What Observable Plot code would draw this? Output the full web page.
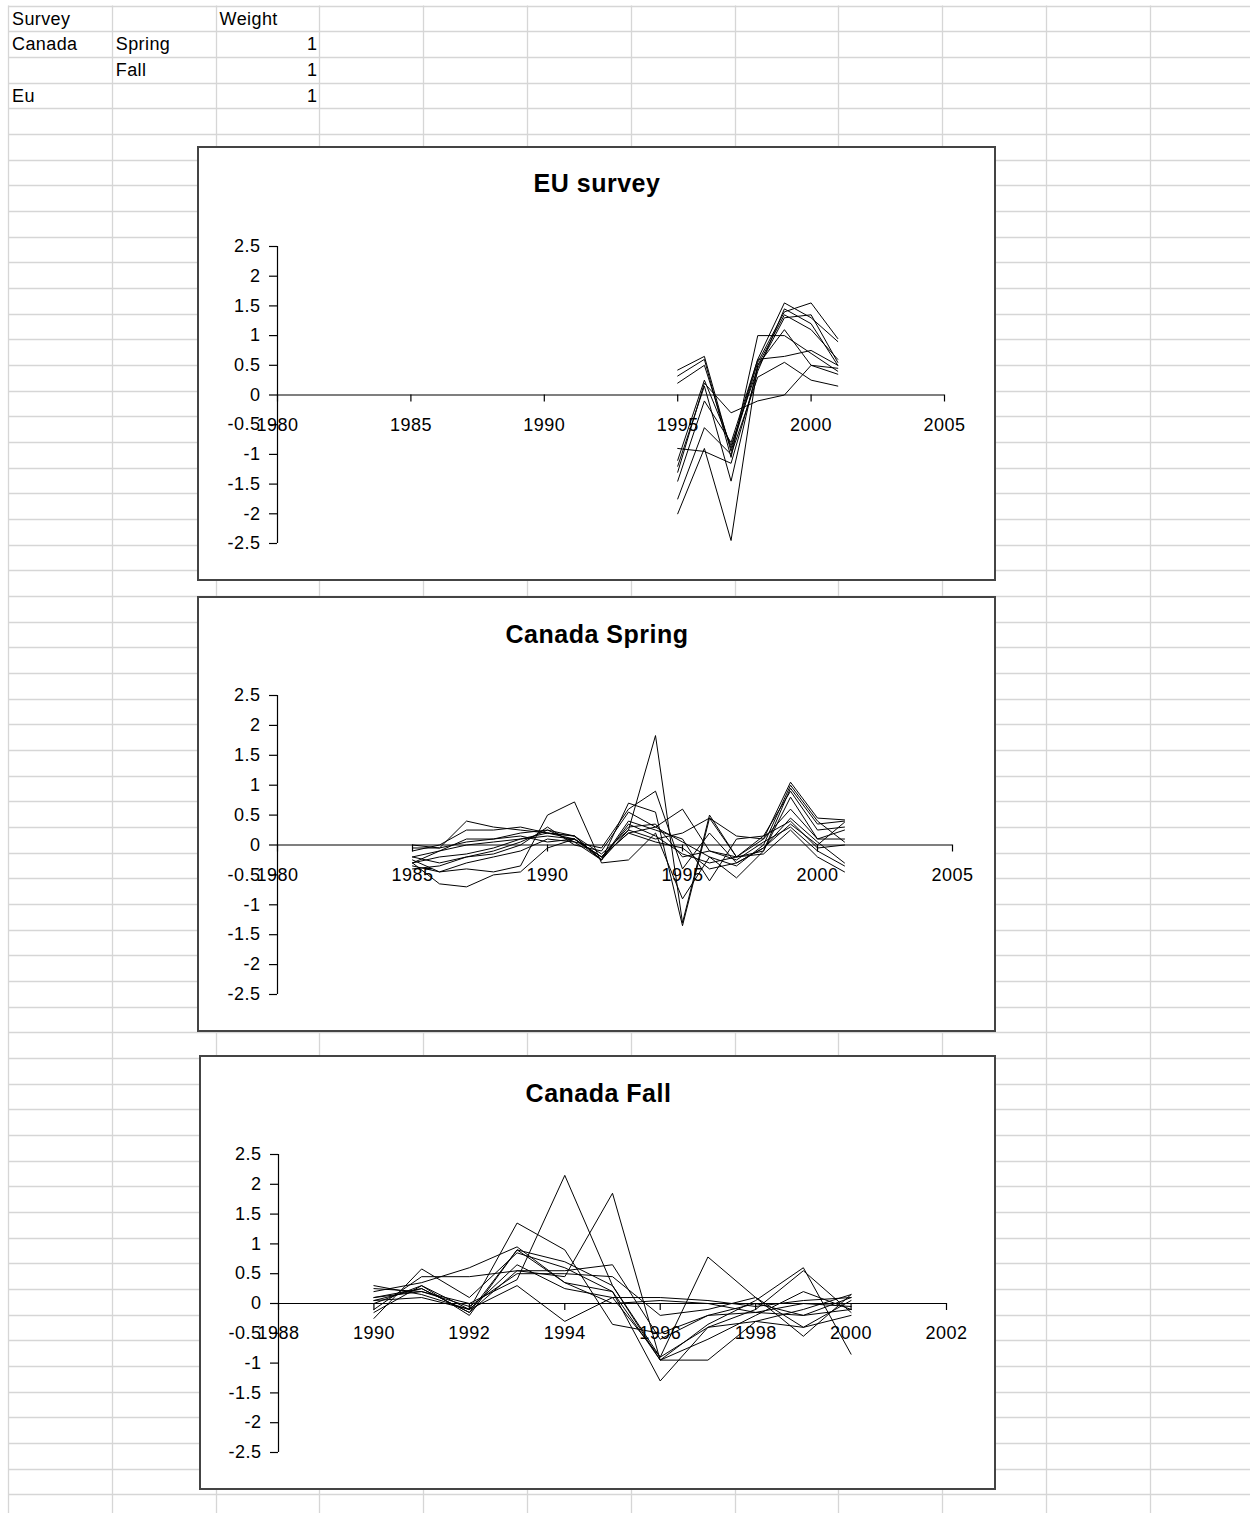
<!DOCTYPE html>
<html>
<head>
<meta charset="utf-8">
<script src="https://cdn.jsdelivr.net/npm/d3@7"></script>
<script src="https://cdn.jsdelivr.net/npm/@observablehq/plot@0.6"></script>
<style>
  html, body { margin: 0; padding: 0; background: #fff; }
  #sheet { position: relative; width: 1250px; height: 1513px; overflow: hidden; background: #fff;
           font-family: "Liberation Sans", Arial, sans-serif; font-size: 18px; color: #000; }
  #grid { position: absolute; left: 0; top: 0; }
  .cell { position: absolute; height: 26px; line-height: 26px; letter-spacing: 0.4px; white-space: nowrap; }
  .box { position: absolute; box-sizing: border-box; border: 2px solid #444; background: #fff; }
  .box svg { display: block; }
  .box svg text { letter-spacing: 0.5px; }
</style>
</head>
<body>
<div id="sheet"></div>
<script>
// ---------------- data ----------------
const tableHeader = ["Survey", "", "Weight"];
const tableSurvey = ["Canada", "", "Eu"];
const tableSeason = ["Spring", "Fall", ""];
const tableWeight = [1, 1, 1];

const yTicks = [-2.5, -2, -1.5, -1, -0.5, 0, 0.5, 1, 1.5, 2, 2.5];

// EU survey
const euTitle = "EU survey";
const euXTicks = [1980, 1985, 1990, 1995, 2000, 2005];
const euYears = [1995, 1996, 1997, 1998, 1999, 2000, 2001];
const euValues = [
  [0.42, 0.65, -0.95, 0.55, 1.4, 1.55, 0.95],
  [0.32, 0.6, -1.05, 1.0, 1.0, 0.7, 0.4],
  [0.2, 0.5, -0.9, 0.6, 1.55, 1.3, 0.9],
  [-1.1, 0.25, -0.85, 0.45, 1.3, 1.35, 0.55],
  [-1.2, 0.15, -1.45, 0.5, 1.35, 1.1, 0.6],
  [-1.45, -0.1, -0.8, 0.6, 0.65, 0.75, 0.5],
  [-1.75, -0.55, -1.0, 0.3, 0.55, 0.25, 0.15],
  [-2.0, -0.9, -2.45, 0.5, 1.1, 0.5, 0.45],
  [-1.3, 0.2, -0.3, -0.1, 0.0, 0.5, 0.35],
  [-0.9, -0.95, -1.15, 0.4, 1.45, 1.2, 0.5]
];

// Canada Spring
const springTitle = "Canada Spring";
const springXTicks = [1980, 1985, 1990, 1995, 2000, 2005];
const springYears = [1985, 1986, 1987, 1988, 1989, 1990, 1991, 1992, 1993, 1994, 1995, 1996, 1997, 1998, 1999, 2000, 2001];
const springValues = [
  [-0.05, -0.05, 0.4, 0.3, 0.25, 0.2, 0.15, -0.25, 0.25, 1.83, -1.3, 0.5, -0.2, 0.1, 1.05, 0.45, 0.42],
  [-0.3, -0.65, -0.7, -0.5, -0.45, -0.05, 0.1, -0.25, 0.7, 0.55, -1.35, 0.45, -0.2, -0.1, 0.95, 0.35, 0.4],
  [-0.25, -0.45, -0.4, -0.45, -0.35, 0.5, 0.72, -0.3, -0.25, 0.2, -0.9, -0.2, -0.55, -0.1, 0.8, 0.1, 0.25],
  [-0.4, -0.35, -0.2, -0.1, 0.05, 0.25, 0.05, -0.05, 0.6, 0.9, -0.4, 0.2, -0.3, -0.05, 0.45, 0.05, -0.3],
  [-0.2, -0.1, 0.1, 0.1, 0.15, 0.05, 0.1, -0.2, 0.2, 0.3, 0.6, -0.1, -0.2, 0.15, 0.4, -0.05, 0.0],
  [-0.1, 0.0, 0.25, 0.25, 0.3, 0.2, 0.15, -0.25, 0.4, 0.25, 0.1, -0.6, 0.1, 0.15, 0.9, 0.25, 0.3],
  [-0.3, -0.2, -0.15, -0.05, 0.1, 0.15, 0.1, -0.2, 0.3, 0.35, -0.2, -0.1, -0.25, 0.05, 0.3, -0.1, -0.35],
  [0.0, -0.05, 0.05, 0.1, 0.2, 0.25, 0.15, -0.15, 0.25, 0.1, 0.2, 0.45, 0.15, 0.1, 0.6, 0.1, 0.1],
  [-0.35, -0.45, -0.3, -0.2, -0.1, 0.1, 0.05, -0.25, 0.35, 0.15, -0.15, -0.3, -0.2, -0.15, 0.25, -0.2, -0.45],
  [-0.2, -0.3, -0.2, -0.15, 0.0, 0.3, 0.0, -0.1, 0.55, 0.3, 0.05, -0.2, -0.35, 0.0, 1.0, 0.4, 0.05],
  [-0.3, -0.1, 0.0, 0.05, 0.1, 0.2, 0.1, -0.2, 0.2, 0.05, -0.05, -0.4, -0.3, -0.05, 0.35, 0.0, 0.38]
];

// Canada Fall
const fallTitle = "Canada Fall";
const fallXTicks = [1988, 1990, 1992, 1994, 1996, 1998, 2000, 2002];
const fallYears = [1990, 1991, 1992, 1993, 1994, 1995, 1996, 1997, 1998, 1999, 2000];
const fallValues = [
  [0.1, 0.2, 0.0, 0.4, 2.15, 0.3, -0.9, -0.4, -0.3, -0.1, 0.15],
  [0.05, 0.25, -0.15, 0.55, 0.45, 1.85, -0.95, -0.35, 0.05, 0.6, -0.85],
  [0.3, 0.15, -0.1, 1.35, 0.9, -0.35, -0.5, -0.2, 0.0, -0.2, 0.1],
  [-0.25, 0.58, 0.1, 0.85, 0.6, 0.2, -1.3, -0.4, -0.1, 0.55, -0.15],
  [0.2, 0.35, 0.6, 0.95, 0.35, 0.2, -0.95, -0.95, -0.3, -0.4, 0.05],
  [-0.1, 0.45, 0.45, 0.55, 0.55, 0.65, -0.6, -0.2, -0.15, 0.0, -0.05],
  [0.05, 0.1, -0.1, 0.3, -0.3, 0.1, -0.9, 0.78, 0.1, -0.4, -0.2],
  [0.1, 0.25, -0.15, 0.9, 0.7, 0.3, -0.95, -0.6, -0.2, 0.2, -0.1],
  [-0.15, 0.3, -0.2, 0.9, 0.35, 0.0, 0.05, 0.0, -0.15, -0.2, -0.1],
  [0.25, 0.2, -0.05, 0.5, 0.5, 0.45, -0.2, -0.1, 0.1, -0.55, 0.15],
  [0.0, 0.3, -0.1, 0.65, 0.25, 0.1, 0.1, 0.05, -0.05, 0.05, 0.1]
];

// ---------------- spreadsheet background ----------------
const sheet = document.getElementById("sheet");
const colW = 103.8, rowH = 25.67, col0 = 8, row0 = 5.5;
const grid = d3.select(sheet).append("svg").attr("id", "grid").attr("width", 1250).attr("height", 1513);
for (let k = 0; col0 + k * colW < 1250; k++) {
  const x = Math.round(col0 + k * colW) + 0.5;
  grid.append("line").attr("x1", x).attr("x2", x).attr("y1", row0).attr("y2", 1513)
    .attr("stroke", "#d6d6d6").attr("stroke-width", 1.3);
}
for (let k = 0; row0 + k * rowH < 1513; k++) {
  const y = Math.round(row0 + k * rowH) + 0.5;
  grid.append("line").attr("x1", col0).attr("x2", 1250).attr("y1", y).attr("y2", y)
    .attr("stroke", "#d6d6d6").attr("stroke-width", 1.3);
}

function cell(text, col, row, align) {
  if (text === "" || text == null) return;
  const d = document.createElement("div");
  d.className = "cell";
  d.textContent = text;
  const left = col0 + col * colW;
  d.style.top = (row0 + row * rowH) + "px";
  if (align === "right") {
    d.style.left = left + "px";
    d.style.width = (colW - 2) + "px";
    d.style.textAlign = "right";
  } else {
    d.style.left = (left + 4) + "px";
  }
  sheet.appendChild(d);
}
tableHeader.forEach((t, i) => cell(t, i, 0));
tableSurvey.forEach((t, i) => cell(t, 0, i + 1));
tableSeason.forEach((t, i) => cell(t, 1, i + 1));
tableWeight.forEach((t, i) => cell(String(t), 2, i + 1, "right"));

// ---------------- charts ----------------
function chart({title, years, values, xTicks, box, margins, titleDx, titleDy}) {
  const data = values.flatMap((vals, s) => vals.map((v, i) => ({year: years[i], value: v, series: "s" + s})));
  const xDomain = [xTicks[0], xTicks[xTicks.length - 1]];
  const div = document.createElement("div");
  div.className = "box";
  div.style.left = box.left + "px";
  div.style.top = box.top + "px";
  div.style.width = box.width + "px";
  div.style.height = box.height + "px";
  const plot = Plot.plot({
    width: box.width - 4,
    height: box.height - 4,
    marginLeft: margins[0], marginRight: margins[1], marginTop: margins[2], marginBottom: margins[3],
    style: {fontFamily: "'Liberation Sans', Arial, sans-serif", fontSize: "18px", background: "white", color: "black", overflow: "visible"},
    x: {domain: xDomain, axis: null},
    y: {domain: [-2.5, 2.5], axis: null},
    marks: [
      Plot.line(data, {x: "year", y: "value", z: "series", stroke: "black", strokeWidth: 1, curve: "linear"}),
      Plot.ruleY([0], {stroke: "black", strokeWidth: 1.2}),
      Plot.ruleX([xDomain[0]], {stroke: "black", strokeWidth: 1.2}),
      Plot.ruleX(xTicks, {x: d => d, y1: 0, y2: 0, insetBottom: -7, stroke: "black", strokeWidth: 1.2}),
      Plot.axisY({ticks: yTicks, label: null, tickSize: 8, tickPadding: 9, tickFormat: d => String(d), fontSize: 18, strokeWidth: 1.2}),
      Plot.text(xTicks, {x: d => d, y: 0, dy: 30, text: d => String(d), fontSize: 18}),
      Plot.text([title], {frameAnchor: "top", dx: titleDx, dy: titleDy, text: d => d, fontSize: 25, fontWeight: "bold"})
    ]
  });
  div.appendChild(plot);
  sheet.appendChild(div);
}

chart({title: euTitle, years: euYears, values: euValues, xTicks: euXTicks,
  box: {left: 197, top: 146, width: 799, height: 435}, margins: [78, 50, 98, 36], titleDx: -14, titleDy: -72});
chart({title: springTitle, years: springYears, values: springValues, xTicks: springXTicks,
  box: {left: 197, top: 596, width: 799, height: 436}, margins: [78, 42, 97, 36], titleDx: -18, titleDy: -70});
chart({title: fallTitle, years: fallYears, values: fallValues, xTicks: fallXTicks,
  box: {left: 199, top: 1055, width: 797, height: 435}, margins: [77, 48, 97, 36], titleDx: -14, titleDy: -70});
</script>
</body>
</html>
